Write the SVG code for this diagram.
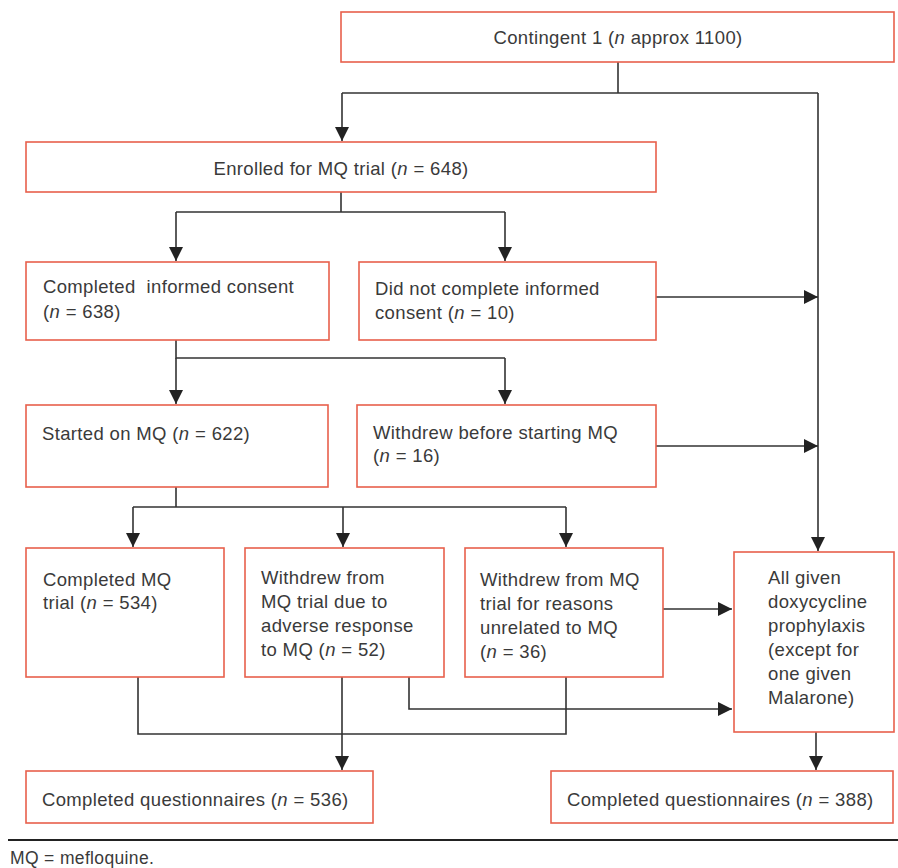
<svg xmlns="http://www.w3.org/2000/svg" width="898" height="868" viewBox="0 0 898 868">
<style>
.box{fill:#fff;stroke:#e8604c;stroke-width:1.6}
text{font-family:"Liberation Sans",Arial,sans-serif;font-size:18.5px;letter-spacing:0.35px;fill:#3a3a3a;white-space:pre}
.i{font-style:italic}
.ln{fill:none;stroke:#333;stroke-width:1.6}
</style>
<defs>
<marker id="ah" viewBox="0 0 14 14" refX="14" refY="7" markerWidth="14" markerHeight="14" markerUnits="userSpaceOnUse" orient="auto">
<path d="M0,0 L14,7 L0,14 Z" fill="#222"/>
</marker>
</defs>
<rect width="898" height="868" fill="#fff"/>
<g id="connectors">
<path class="ln" d="M618,62 V93"/>
<path class="ln" d="M342,93 H818"/>
<path class="ln" d="M342,93 V141" marker-end="url(#ah)"/>
<path class="ln" d="M818,93 V551" marker-end="url(#ah)"/>
<path class="ln" d="M341,192 V212 M176,212 H505"/>
<path class="ln" d="M176,212 V261" marker-end="url(#ah)"/>
<path class="ln" d="M505,212 V261" marker-end="url(#ah)"/>
<path class="ln" d="M656,297 H818" marker-end="url(#ah)"/>
<path class="ln" d="M176,340 V358 H505"/>
<path class="ln" d="M176,358 V404" marker-end="url(#ah)"/>
<path class="ln" d="M505,358 V404" marker-end="url(#ah)"/>
<path class="ln" d="M656,446 H818" marker-end="url(#ah)"/>
<path class="ln" d="M176,487 V507 M133,507 H566"/>
<path class="ln" d="M133,507 V547" marker-end="url(#ah)"/>
<path class="ln" d="M343,507 V547" marker-end="url(#ah)"/>
<path class="ln" d="M566,507 V547" marker-end="url(#ah)"/>
<path class="ln" d="M663,609 H732" marker-end="url(#ah)"/>
<path class="ln" d="M409,677 V709 H732" marker-end="url(#ah)"/>
<path class="ln" d="M138,677 V734 H566 V677"/>
<path class="ln" d="M342,677 V770" marker-end="url(#ah)"/>
<path class="ln" d="M816,732 V770" marker-end="url(#ah)"/>
</g>
<g id="n1"><rect class="box" x="341" y="12" width="553" height="50"/>
<text x="618" y="44" text-anchor="middle">Contingent 1 (<tspan class="i">n</tspan> approx 1100)</text></g>
<g id="n2"><rect class="box" x="26" y="142" width="630" height="50"/>
<text x="341" y="175" text-anchor="middle">Enrolled for MQ trial (<tspan class="i">n</tspan> = 648)</text></g>
<g id="n3"><rect class="box" x="26" y="262" width="303" height="78"/>
<text x="43" y="293">Completed  informed consent</text>
<text x="43" y="318">(<tspan class="i">n</tspan> = 638)</text></g>
<g id="n4"><rect class="box" x="359" y="262" width="297" height="78"/>
<text x="375" y="295">Did not complete informed</text>
<text x="375" y="319">consent (<tspan class="i">n</tspan> = 10)</text></g>
<g id="n5"><rect class="box" x="26" y="405" width="302" height="82"/>
<text x="42" y="440">Started on MQ (<tspan class="i">n</tspan> = 622)</text></g>
<g id="n6"><rect class="box" x="357" y="405" width="299" height="82"/>
<text x="373" y="439">Withdrew before starting MQ</text>
<text x="373" y="462">(<tspan class="i">n</tspan> = 16)</text></g>
<g id="n7"><rect class="box" x="26" y="548" width="198" height="129"/>
<text x="43" y="586">Completed MQ</text>
<text x="43" y="609">trial (<tspan class="i">n</tspan> = 534)</text></g>
<g id="n8"><rect class="box" x="245" y="548" width="199" height="129"/>
<text x="261" y="584">Withdrew from</text>
<text x="261" y="608">MQ trial due to</text>
<text x="261" y="632">adverse response</text>
<text x="261" y="656">to MQ (<tspan class="i">n</tspan> = 52)</text></g>
<g id="n9"><rect class="box" x="465" y="548" width="198" height="129"/>
<text x="480" y="586">Withdrew from MQ</text>
<text x="480" y="610">trial for reasons</text>
<text x="480" y="634">unrelated to MQ</text>
<text x="480" y="658">(<tspan class="i">n</tspan> = 36)</text></g>
<g id="n10"><rect class="box" x="734" y="552" width="160" height="180"/>
<text x="768" y="584">All given</text>
<text x="768" y="608">doxycycline</text>
<text x="768" y="632">prophylaxis</text>
<text x="768" y="656">(except for</text>
<text x="768" y="680">one given</text>
<text x="768" y="704">Malarone)</text></g>
<g id="n11"><rect class="box" x="26" y="771" width="347" height="52"/>
<text x="42" y="806">Completed questionnaires (<tspan class="i">n</tspan> = 536)</text></g>
<g id="n12"><rect class="box" x="551" y="771" width="342" height="52"/>
<text x="567" y="806">Completed questionnaires (<tspan class="i">n</tspan> = 388)</text></g>
<g id="footer">
<line x1="8" y1="840" x2="898" y2="840" stroke="#222" stroke-width="2.2"/>
<text x="10" y="864" style="font-size:17.5px">MQ = mefloquine.</text>
</g>
</svg>
